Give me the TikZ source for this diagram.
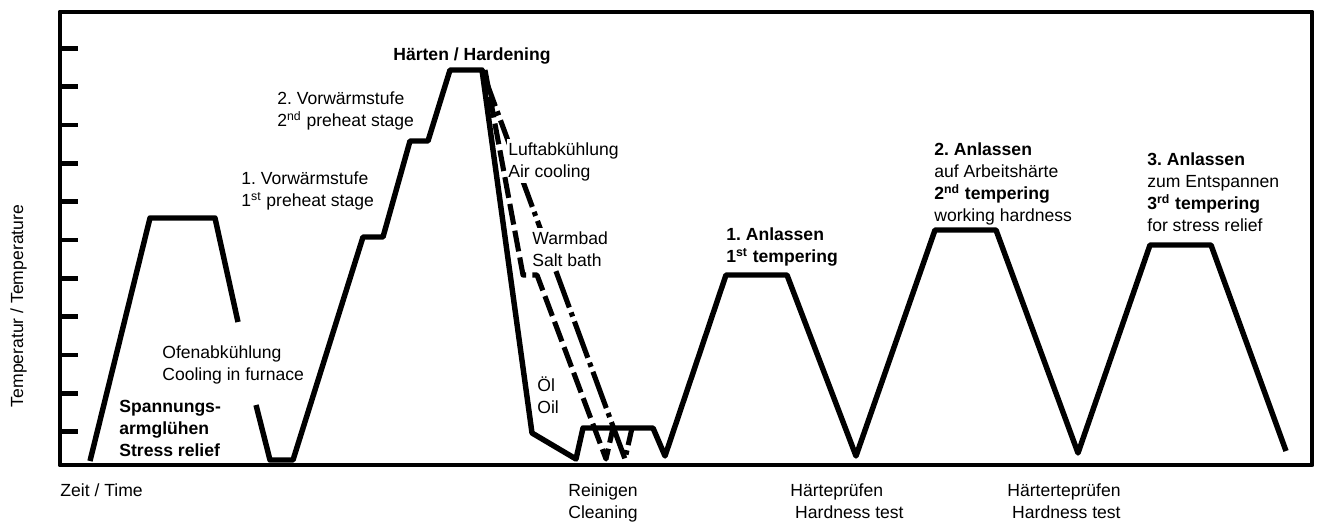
\documentclass[tikz,border=0pt]{standalone}
\usepackage{fontspec}
\setmainfont{Liberation Sans}
\frenchspacing

\begin{document}
\begin{tikzpicture}[x=0.02cm,y=-0.02cm,line join=round]
  \tikzstyle{frame}=[line width=2.8pt]
  \tikzstyle{curve}=[line width=3.1pt]
  \tikzstyle{saltbath}=[line width=2.9pt,dash pattern=on 12pt off 3.5pt]
  \tikzstyle{aircool}=[line width=2.9pt,dash pattern=on 22pt off 3pt on 2.5pt off 3pt]
  \tikzstyle{lbl}=[anchor=north west,align=left,inner sep=0pt,font=\fontsize{10}{12.5}\selectfont]
  \tikzstyle{hide}=[fill=white,inner sep=1pt]

  \useasboundingbox (0,0) rectangle (1318,521);

  \draw[frame] (60,12) rectangle (1312,465);
  \foreach \k in {0,...,10}
    \draw[frame] (60,48.3+38.34*\k) -- (78,48.3+38.34*\k);

  % Luftabkuehlung
  \draw[aircool] (482,70) -- (625,459) -- (632,428);
  \node[lbl,hide] (luft) at (506.2,138.2) {\strut Luftabkühlung\\Air cooling};
  \node[lbl,hide] (warm) at (530.2,227.2) {\strut Warmbad\\Salt bath};
  % Warmbad
  \draw[saltbath] (485,70) -- (523,275) -- (537,275) -- (606,459) -- (613,428);
  % Spannungsarmgluehen
  \draw[curve] (90,461) -- (150,218) -- (215,218) -- (238,322);
  % Vorwaermen, Haerten, Oel, Reinigen, Anlassen
  \draw[curve] (256,405) -- (270,460) -- (293,460) -- (363,237) -- (383,237)
    -- (410,141) -- (428,141) -- (450,70) -- (482,70) -- (532,433) -- (576,459)
    -- (583,428) -- (653,428) -- (665,456) -- (726,275) -- (787,275) -- (856,456)
    -- (935,230) -- (996,230) -- (1078,453) -- (1150,245) -- (1211,245) -- (1286,451);

  \node[font=\fontsize{10}{12.5}\selectfont,rotate=90] (temp) at (18.5,306) {Temperatur / Temperature};
  \node[lbl] (zeit) at (60,481) {\strut Zeit / Time};
  \node[lbl] (spann) at (119,397) {\strut\textbf{Spannungs-}\\\textbf{armglühen}\\\textbf{Stress relief}};
  \node[lbl] (ofen) at (162,343) {\strut Ofenabkühlung\\Cooling in furnace};
  \node[lbl] (vorw1) at (241,169) {\strut 1. Vorwärmstufe\\1\textsuperscript{st} preheat stage};
  \node[lbl] (vorw2) at (277,89) {\strut 2. Vorwärmstufe\\2\textsuperscript{nd} preheat stage};
  \node[lbl] (haerten) at (393,45) {\strut\textbf{Härten / Hardening}};
  \node[lbl] (oel) at (537,376) {\strut Öl\\Oil};
  \node[lbl] (anl1) at (726,225) {\strut\textbf{1. Anlassen}\\\textbf{1\textsuperscript{st} tempering}};
  \node[lbl] (anl2) at (934,140) {\strut\textbf{2. Anlassen}\\auf Arbeitshärte\\\textbf{2\textsuperscript{nd} tempering}\\working hardness};
  \node[lbl] (anl3) at (1147,150) {\strut\textbf{3. Anlassen}\\zum Entspannen\\\textbf{3\textsuperscript{rd} tempering}\\for stress relief};
  \node[lbl] (rein) at (568,481) {\strut Reinigen\\Cleaning};
  \node[lbl] (pruef1) at (790,481) {\strut Härteprüfen\\\ Hardness test};
  \node[lbl] (pruef2) at (1007,481) {\strut Härterteprüfen\\\ Hardness test};
\end{tikzpicture}
\end{document}
